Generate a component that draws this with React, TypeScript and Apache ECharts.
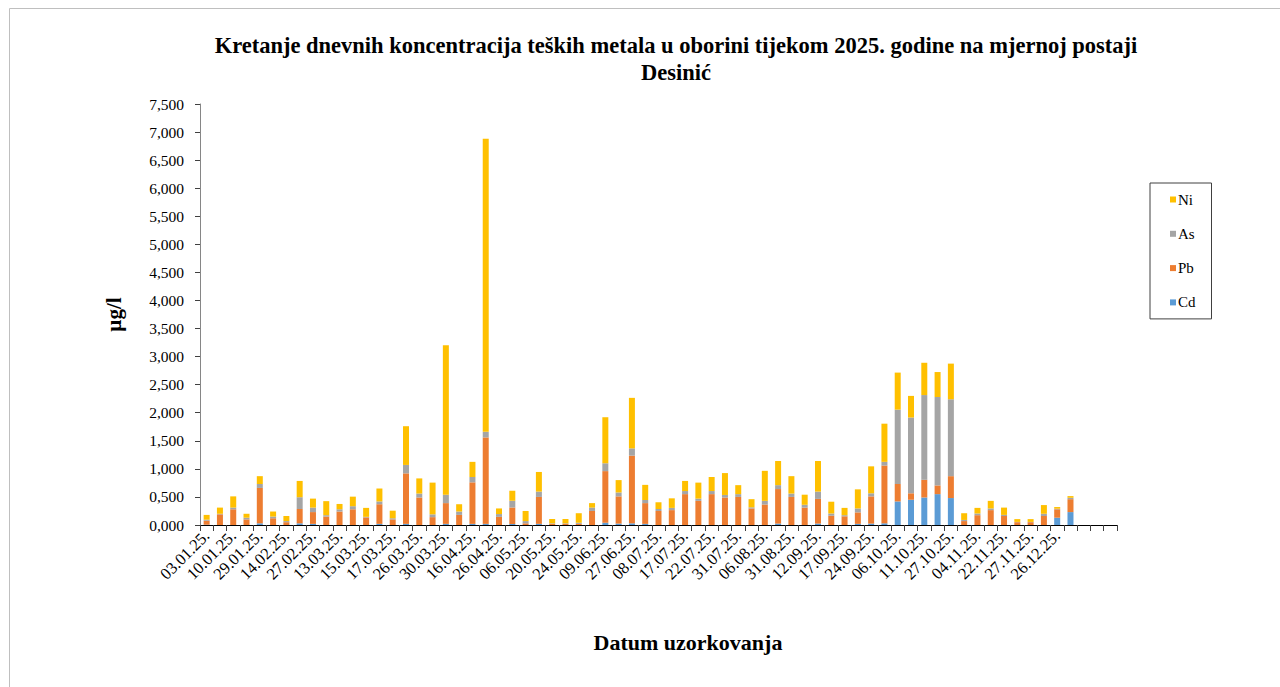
import React, { useEffect, useRef } from "react";
import * as echarts from "echarts";

const categories: string[] = [
  "03.01.25.", "07.01.25.", "10.01.25.", "21.01.25.", "29.01.25.", "06.02.25.", "14.02.25.", "20.02.25.",
  "27.02.25.", "05.03.25.", "13.03.25.", "14.03.25.", "15.03.25.", "16.03.25.", "17.03.25.", "22.03.25.",
  "26.03.25.", "28.03.25.", "30.03.25.", "10.04.25.", "16.04.25.", "20.04.25.", "26.04.25.", "02.05.25.",
  "06.05.25.", "14.05.25.", "20.05.25.", "22.05.25.", "24.05.25.", "01.06.25.", "09.06.25.", "18.06.25.",
  "27.06.25.", "03.07.25.", "08.07.25.", "12.07.25.", "17.07.25.", "20.07.25.", "22.07.25.", "27.07.25.",
  "31.07.25.", "03.08.25.", "06.08.25.", "20.08.25.", "31.08.25.", "05.09.25.", "12.09.25.", "14.09.25.",
  "17.09.25.", "21.09.25.", "24.09.25.", "30.09.25.", "06.10.25.", "08.10.25.", "11.10.25.", "20.10.25.",
  "27.10.25.", "30.10.25.", "04.11.25.", "14.11.25.", "22.11.25.", "25.11.25.", "27.11.25.", "10.12.25.",
  "26.12.25.", "30.12.25.", "", "", "",
];

const cd: number[] = [
  0.005, 0, 0, 0, 0.03, 0, 0, 0.03, 0.02, 0, 0, 0, 0, 0.02, 0, 0.02,
  0, 0, 0.02, 0, 0.02, 0.02, 0, 0.02, 0, 0.02, 0, 0, 0, 0, 0.04, 0.025,
  0.03, 0.02, 0, 0, 0, 0, 0, 0, 0, 0, 0, 0.025, 0, 0, 0.025, 0,
  0, 0.02, 0.025, 0.03, 0.42, 0.45, 0.49, 0.55, 0.48, 0, 0, 0, 0, 0, 0, 0,
  0.13, 0.23,
];
const pb: number[] = [
  0.07, 0.19, 0.28, 0.1, 0.63, 0.12, 0.05, 0.255, 0.21, 0.15, 0.24, 0.28, 0.135, 0.35, 0.1, 0.9,
  0.49, 0.14, 0.37, 0.18, 0.74, 1.54, 0.145, 0.29, 0.03, 0.48, 0.02, 0.02, 0.02, 0.25, 0.92, 0.485,
  1.205, 0.37, 0.25, 0.265, 0.55, 0.43, 0.55, 0.49, 0.5, 0.295, 0.365, 0.615, 0.5, 0.31, 0.44, 0.165,
  0.155, 0.205, 0.485, 1.03, 0.31, 0.115, 0.315, 0.155, 0.39, 0.07, 0.175, 0.265, 0.16, 0.05, 0.05, 0.16,
  0.15, 0.23,
];
const as: number[] = [
  0.02, 0.01, 0.03, 0.03, 0.07, 0.03, 0.02, 0.21, 0.08, 0.025, 0.04, 0.055, 0.01, 0.05, 0.02, 0.15,
  0.07, 0.05, 0.15, 0.06, 0.095, 0.1, 0.05, 0.12, 0.04, 0.095, 0.01, 0.01, 0.02, 0.06, 0.14, 0.07,
  0.13, 0.055, 0.035, 0.04, 0.055, 0.04, 0.055, 0.045, 0.05, 0.02, 0.065, 0.07, 0.06, 0.05, 0.13, 0.04,
  0.02, 0.07, 0.055, 0.065, 1.325, 1.35, 1.51, 1.575, 1.37, 0.02, 0.03, 0.03, 0.02, 0.005, 0.005, 0.04,
  0.01, 0.025,
];
const ni: number[] = [
  0.085, 0.11, 0.2, 0.07, 0.14, 0.09, 0.09, 0.29, 0.16, 0.25, 0.095, 0.17, 0.16, 0.23, 0.135, 0.69,
  0.27, 0.565, 2.66, 0.13, 0.27, 5.22, 0.1, 0.18, 0.18, 0.35, 0.077, 0.077, 0.17, 0.08, 0.82, 0.22,
  0.9, 0.27, 0.12, 0.17, 0.18, 0.285, 0.25, 0.39, 0.16, 0.145, 0.535, 0.43, 0.31, 0.18, 0.545, 0.21,
  0.13, 0.34, 0.48, 0.68, 0.66, 0.385, 0.575, 0.445, 0.635, 0.12, 0.1, 0.135, 0.13, 0.05, 0.05, 0.155,
  0.03, 0.03,
];

const seriesNames = ["Cd", "Pb", "As", "Ni"];
const seriesColors = ["#5B9BD5", "#ED7D31", "#A5A5A5", "#FFC000"];
const yTicksMax = 7.5;
const yInterval = 0.5;
const titleText =
  "Kretanje dnevnih koncentracija teških metala u oborini tijekom 2025. godine na mjernoj postaji\nDesinić";
const yName = "µg/l";
const xName = "Datum uzorkovanja";

const FONT = "'Liberation Serif', 'Times New Roman', serif";

export default function App() {
  const ref = useRef<HTMLDivElement>(null);
  useEffect(() => {
    if (!ref.current) return;
    const chart = echarts.init(ref.current, undefined, { renderer: "svg" });
    const values = [cd, pb, as, ni];
    chart.setOption({
      animation: false,
      backgroundColor: "#ffffff",
      textStyle: { fontFamily: FONT },
      graphic: [
        {
          type: "rect",
          shape: { x: 9.5, y: 8.5, width: 1290, height: 700 },
          style: { fill: "none", stroke: "#bfbfbf", lineWidth: 1 },
          silent: true,
        },
        {
          type: "text",
          x: 676,
          y: 59,
          style: {
            text: titleText,
            fontFamily: FONT,
            fontWeight: "bold",
            fontSize: 22.5,
            lineHeight: 27,
            fill: "#000",
            align: "center",
            verticalAlign: "middle",
          },
        },
        {
          type: "text",
          x: 688,
          y: 642,
          style: {
            text: xName,
            fontFamily: FONT,
            fontWeight: "bold",
            fontSize: 22,
            fill: "#000",
            align: "center",
            verticalAlign: "middle",
          },
        },
      ],
      legend: {
        data: ["Ni", "As", "Pb", "Cd"],
        orient: "vertical",
        left: 1150,
        top: 183,
        padding: [9, 16, 9, 20],
        itemGap: 19.3,
        itemWidth: 6,
        itemHeight: 6,
        icon: "rect",
        borderColor: "#404040",
        borderWidth: 1,
        textStyle: { fontFamily: FONT, fontSize: 15, color: "#000", padding: [0, 0, 0, -3] },
      },
      grid: { left: 200, right: 163, top: 104, bottom: 162 },
      xAxis: {
        type: "category",
        data: categories,
        boundaryGap: true,
        axisLine: { lineStyle: { color: "#000", width: 1 } },
        axisTick: { show: true, interval: 0, length: 6, lineStyle: { color: "#404040" } },
        axisLabel: {
          interval: 1,
          rotate: 45,
          fontFamily: FONT,
          fontSize: 16.5,
          color: "#000",
          margin: 8,
        },
      },
      yAxis: {
        type: "value",
        min: 0,
        max: yTicksMax,
        interval: yInterval,
        name: yName,
        nameLocation: "middle",
        nameRotate: 90,
        nameGap: 76,
        nameTextStyle: { fontFamily: FONT, fontWeight: "bold", fontSize: 21, color: "#000" },
        axisLine: { show: true, lineStyle: { color: "#868686", width: 1 } },
        axisTick: { show: true, length: 5, lineStyle: { color: "#404040" } },
        splitLine: { show: false },
        axisLabel: {
          fontFamily: FONT,
          fontSize: 15.5,
          color: "#000",
          margin: 16,
          formatter: (v: number) => v.toFixed(3).replace(".", ","),
        },
      },
      series: seriesNames.map((name, i) => ({
        name,
        type: "bar",
        stack: "total",
        barWidth: 6,
        data: values[i],
        itemStyle: { color: seriesColors[i] },
      })),
    });
    return () => chart.dispose();
  }, []);
  return (
    <div
      ref={ref}
      style={{ position: "fixed", left: 0, top: 0, width: 1280, height: 687 }}
    />
  );
}
